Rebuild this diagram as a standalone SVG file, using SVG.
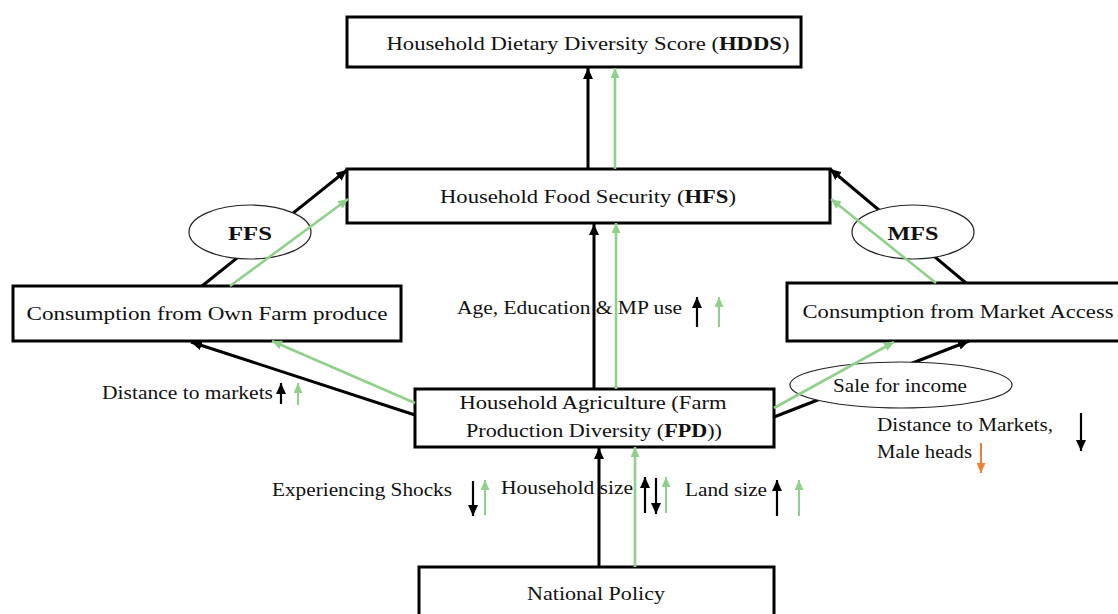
<svg xmlns="http://www.w3.org/2000/svg" width="1118" height="614" viewBox="0 0 1118 614">
<defs>
<style>
.box{fill:#fff;stroke:#000;stroke-width:3}
.ell{fill:#fff;stroke:#222;stroke-width:1.2}
text{font-family:'Liberation Serif','Times New Roman','DejaVu Serif',serif;font-size:19px;fill:#111}
.b{font-weight:bold}
.k{stroke:#000;stroke-width:3;fill:none}
.g{stroke:#8fd18a;stroke-width:2.6;fill:none}
.ks{stroke:#000;stroke-width:2.2;fill:none}
.gs{stroke:#8fd18a;stroke-width:2;fill:none}
.os{stroke:#f08030;stroke-width:2;fill:none}
</style>
<marker id="ak" markerUnits="userSpaceOnUse" markerWidth="12" markerHeight="10" refX="11" refY="5" orient="auto"><path d="M0,0 L11,5 L0,10 Z" fill="#000"/></marker>
<marker id="ag" markerUnits="userSpaceOnUse" markerWidth="10" markerHeight="9" refX="10" refY="4.5" orient="auto"><path d="M0,0 L10,4.5 L0,9 Z" fill="#8fd18a"/></marker>
<marker id="ao" markerUnits="userSpaceOnUse" markerWidth="10" markerHeight="9" refX="10" refY="4.5" orient="auto"><path d="M0,0 L10,4.5 L0,9 Z" fill="#f08030"/></marker>
</defs>
<rect width="1118" height="614" fill="#fff"/>

<g id="hdds"><rect class="box" x="347" y="17" width="454" height="50"/>
<text font-family="Liberation Serif, serif" x="588" y="50" text-anchor="middle" textLength="403" lengthAdjust="spacingAndGlyphs">Household Dietary Diversity Score (<tspan class="b">HDDS</tspan>)</text></g>

<g id="hfs"><rect class="box" x="347" y="169" width="483" height="54"/>
<text font-family="Liberation Serif, serif" x="588" y="203" text-anchor="middle" textLength="296" lengthAdjust="spacingAndGlyphs">Household Food Security (<tspan class="b">HFS</tspan>)</text></g>

<g id="ownfarm"><rect class="box" x="13" y="286" width="388" height="55"/>
<text font-family="Liberation Serif, serif" x="207" y="320" text-anchor="middle" textLength="361" lengthAdjust="spacingAndGlyphs">Consumption from Own Farm produce</text></g>

<g id="market"><rect class="box" x="787" y="283" width="340" height="58"/>
<text font-family="Liberation Serif, serif" x="958" y="318" text-anchor="middle" textLength="311" lengthAdjust="spacingAndGlyphs">Consumption from Market Access</text></g>

<g id="fpd"><rect class="box" x="415" y="389" width="359" height="58"/>
<text font-family="Liberation Serif, serif" x="593" y="409" text-anchor="middle" textLength="267" lengthAdjust="spacingAndGlyphs">Household Agriculture (Farm</text>
<text font-family="Liberation Serif, serif" x="594" y="437" text-anchor="middle" textLength="256" lengthAdjust="spacingAndGlyphs">Production Diversity (<tspan class="b">FPD</tspan>))</text></g>

<g id="policy"><rect class="box" x="419" y="567" width="355" height="60"/>
<text font-family="Liberation Serif, serif" x="596" y="600" text-anchor="middle" textLength="138" lengthAdjust="spacingAndGlyphs">National Policy</text></g>

<g id="connectors-black">
<line class="k" x1="588" y1="169" x2="588" y2="68" marker-end="url(#ak)"/>
<line class="k" x1="594" y1="389" x2="594" y2="224" marker-end="url(#ak)"/>
<line class="k" x1="202" y1="286" x2="347" y2="170" marker-end="url(#ak)"/>
<line class="k" x1="966" y1="283" x2="830" y2="169" marker-end="url(#ak)"/>
<line class="k" x1="415" y1="415" x2="191" y2="342" marker-end="url(#ak)"/>
<line class="k" x1="774" y1="417" x2="969" y2="341" marker-end="url(#ak)"/>
<line class="k" x1="599" y1="567" x2="599" y2="448" marker-end="url(#ak)"/>
</g>

<g id="ffs"><ellipse class="ell" cx="250" cy="232" rx="61" ry="27"/>
<text font-family="Liberation Serif, serif" class="b" x="250" y="240" text-anchor="middle" font-size="21" textLength="44" lengthAdjust="spacingAndGlyphs">FFS</text></g>
<g id="mfs"><ellipse class="ell" cx="913" cy="232" rx="61" ry="27"/>
<text font-family="Liberation Serif, serif" class="b" x="913" y="240" text-anchor="middle" font-size="21" textLength="51" lengthAdjust="spacingAndGlyphs">MFS</text></g>
<g id="sale"><ellipse class="ell" cx="901" cy="385" rx="111" ry="23"/>
<text font-family="Liberation Serif, serif" x="900" y="392" text-anchor="middle" textLength="134" lengthAdjust="spacingAndGlyphs">Sale for income</text></g>

<g id="connectors-green">
<line class="g" x1="615" y1="169" x2="615" y2="68" marker-end="url(#ag)"/>
<line class="g" x1="616" y1="389" x2="616" y2="223" marker-end="url(#ag)"/>
<line class="g" x1="230" y1="286" x2="348" y2="199" marker-end="url(#ag)"/>
<line class="g" x1="936" y1="283" x2="831" y2="199" marker-end="url(#ag)"/>
<line class="g" x1="415" y1="403" x2="272" y2="341" marker-end="url(#ag)"/>
<line class="g" x1="774" y1="408" x2="894" y2="342" marker-end="url(#ag)"/>
<line class="g" x1="635" y1="567" x2="635" y2="447" marker-end="url(#ag)"/>
</g>

<g id="labels" font-family="Liberation Serif, serif">
<text x="457" y="314" textLength="225" lengthAdjust="spacingAndGlyphs">Age, Education &amp; MP use</text>
<line class="ks" x1="697" y1="327" x2="697" y2="297" marker-end="url(#ak)"/>
<line class="gs" x1="719" y1="327" x2="719" y2="297" marker-end="url(#ag)"/>

<text x="102" y="399" textLength="171" lengthAdjust="spacingAndGlyphs">Distance to markets</text>
<line class="ks" x1="281" y1="404" x2="281" y2="383" marker-end="url(#ak)"/>
<line class="gs" x1="298" y1="405" x2="298" y2="383" marker-end="url(#ag)"/>

<text x="272" y="496" textLength="180" lengthAdjust="spacingAndGlyphs">Experiencing Shocks</text>
<line class="ks" x1="473" y1="481" x2="473" y2="516" marker-end="url(#ak)"/>
<line class="gs" x1="485" y1="515" x2="485" y2="480" marker-end="url(#ag)"/>

<text x="501" y="494" textLength="132" lengthAdjust="spacingAndGlyphs">Household size</text>
<line class="ks" x1="645" y1="513" x2="645" y2="477" marker-end="url(#ak)"/>
<line class="ks" x1="656" y1="478" x2="656" y2="514" marker-end="url(#ak)"/>
<line class="gs" x1="666" y1="513" x2="666" y2="477" marker-end="url(#ag)"/>

<text x="685" y="496" textLength="82" lengthAdjust="spacingAndGlyphs">Land size</text>
<line class="ks" x1="777" y1="516" x2="777" y2="480" marker-end="url(#ak)"/>
<line class="gs" x1="799" y1="516" x2="799" y2="480" marker-end="url(#ag)"/>

<text x="877" y="431" textLength="176" lengthAdjust="spacingAndGlyphs">Distance to Markets,</text>
<text x="877" y="458" textLength="95" lengthAdjust="spacingAndGlyphs">Male heads</text>
<line class="ks" x1="1081" y1="413" x2="1081" y2="451" marker-end="url(#ak)"/>
<line class="os" x1="981" y1="443" x2="981" y2="473" marker-end="url(#ao)"/>
</g>
</svg>
